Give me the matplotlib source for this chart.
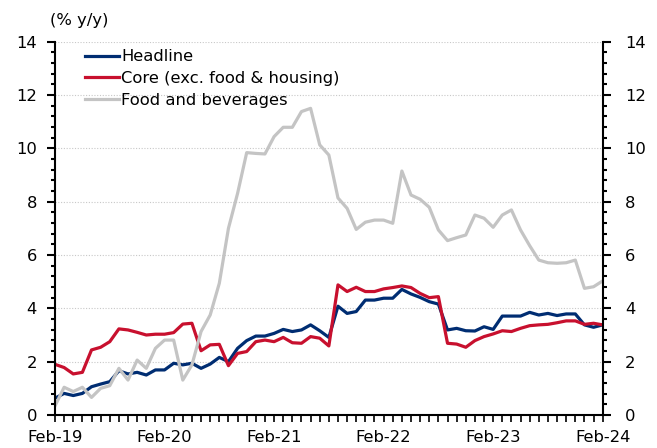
import matplotlib
matplotlib.use("Agg")
import matplotlib.pyplot as plt
from matplotlib.ticker import MultipleLocator, FixedLocator

plt.rcParams['font.family'] = ['DejaVu Sans']

headline = [0.63, 0.81, 0.73, 0.81, 1.06, 1.16, 1.25, 1.66, 1.54, 1.60, 1.50, 1.69,
            1.69, 1.94, 1.88, 1.94, 1.75, 1.91, 2.16, 2.00, 2.50, 2.79, 2.96, 2.96,
            3.06, 3.21, 3.13, 3.19, 3.38, 3.16, 2.91, 4.08, 3.81, 3.88, 4.31, 4.31,
            4.38, 4.38, 4.71, 4.54, 4.41, 4.25, 4.16, 3.19, 3.25, 3.16, 3.15, 3.31,
            3.21, 3.71, 3.71, 3.71, 3.85, 3.75, 3.81, 3.73, 3.79, 3.79, 3.38, 3.29,
            3.38]
core = [1.90, 1.78, 1.54, 1.60, 2.44, 2.54, 2.75, 3.23, 3.19, 3.10, 3.00, 3.03,
        3.03, 3.09, 3.41, 3.44, 2.41, 2.63, 2.65, 1.85, 2.31, 2.38, 2.75, 2.81,
        2.75, 2.91, 2.71, 2.69, 2.94, 2.88, 2.59, 4.88, 4.63, 4.79, 4.63, 4.63,
        4.73, 4.78, 4.84, 4.78, 4.56, 4.40, 4.44, 2.69, 2.66, 2.54, 2.79, 2.94,
        3.04, 3.16, 3.13, 3.25, 3.35, 3.38, 3.40, 3.46, 3.53, 3.53, 3.40, 3.44,
        3.38]
food = [0.34, 1.04, 0.88, 1.04, 0.66, 1.00, 1.10, 1.75, 1.31, 2.06, 1.75, 2.50,
        2.81, 2.81, 1.31, 1.88, 3.13, 3.75, 4.94, 7.00, 8.31, 9.84, 9.81, 9.79,
        10.44, 10.79, 10.79, 11.38, 11.50, 10.13, 9.75, 8.14, 7.75, 6.96, 7.23, 7.31,
        7.31, 7.19, 9.15, 8.25, 8.09, 7.79, 6.94, 6.54, 6.65, 6.75, 7.50, 7.38,
        7.04, 7.50, 7.69, 6.94, 6.35, 5.81, 5.71, 5.69, 5.71, 5.81, 4.75, 4.81,
        5.03]
tick_labels = ["Feb-19", "Feb-20", "Feb-21", "Feb-22", "Feb-23", "Feb-24"]
series_names = ["Headline", "Core (exc. food & housing)", "Food and beverages"]
colors = ["#002D72", "#C8102E", "#C4C4C4"]

months = list(range(len(headline)))
FS = 11.8

fig = plt.figure(figsize=(6.57, 4.48), dpi=100)
ax = fig.add_axes([55/657, 33/448, (602.7-55)/657, (415-41.7)/448])

for y, name, c in zip([headline, core, food], series_names, colors):
    ax.plot(months, y, color=c, lw=2.3, label=name, solid_joinstyle='round')

ax.set_xlim(0, len(months) - 1)
ax.set_ylim(0, 14)
ax.xaxis.set_major_locator(FixedLocator(range(0, len(months), 12)))
ax.set_xticklabels(tick_labels)
ax.xaxis.set_minor_locator(MultipleLocator(1))
ax.yaxis.set_major_locator(MultipleLocator(2))
ax.yaxis.set_minor_locator(MultipleLocator(0.4))
ax.grid(axis='y', which='major', color='#C8C8C8', linestyle=(0, (1, 1.5)), lw=0.8)
ax.set_axisbelow(True)

for s in ['top', 'right']:
    ax.spines[s].set_visible(False)
for s in ['left', 'bottom']:
    ax.spines[s].set_linewidth(1.5)

ax.tick_params(axis='y', which='major', direction='out', length=6, width=1.5, labelsize=FS, pad=7)
ax.tick_params(axis='y', which='minor', direction='out', length=3, width=1.5)
ax.tick_params(axis='x', which='both', direction='out', length=5, width=1.2, labelsize=FS, pad=6)

ax2 = ax.twinx()
ax2.set_ylim(0, 14)
ax2.yaxis.set_major_locator(MultipleLocator(2))
ax2.yaxis.set_minor_locator(MultipleLocator(0.4))
for s in ['top', 'left', 'bottom']:
    ax2.spines[s].set_visible(False)
ax2.spines['right'].set_linewidth(1.5)
ax2.tick_params(axis='y', which='major', direction='out', length=6, width=1.5, labelsize=FS, pad=10)
ax2.tick_params(axis='y', which='minor', direction='out', length=3, width=1.5)

fig.text(50/657, 1 - 20/448, "(% y/y)", fontsize=FS, ha='left', va='center')

leg = ax.legend(loc='upper left', bbox_to_anchor=(23/547.7, 1 - 1/373), frameon=False,
                fontsize=FS, handlelength=2.1, handletextpad=0.15, labelspacing=0.42,
                borderaxespad=0)

fig.savefig("out.png", dpi=100)
